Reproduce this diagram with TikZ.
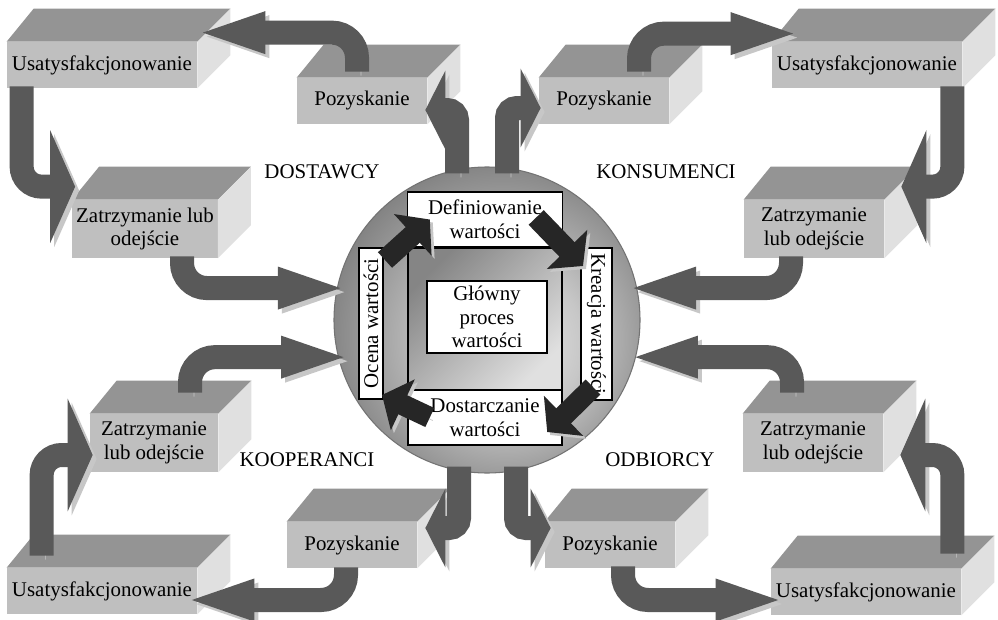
\documentclass[tikz,border=0pt]{standalone}
\usepackage{fontspec}
\setmainfont{Liberation Serif}
\usetikzlibrary{calc,arrows.meta}

\pgfdeclareradialshading{globe}{\pgfpoint{5bp}{-5bp}}{color(0bp)=(black!10); color(12bp)=(black!22); color(29bp)=(black!50); color(50bp)=(black!50)}

\begin{document}
\begin{tikzpicture}
		[x=0.2mm,y=-0.2mm,
		font=\fontsize{11.9}{13.4}\selectfont,
		%Styles
		box/.style={fill=frontgray,inner sep=0pt,align=center,minimum height=9.2mm},
		usat/.style={box,minimum width=38mm},
		poz/.style={box,minimum width=26mm},
		zatrz/.style={box,minimum width=28mm,minimum height=11.6mm},
		top face/.style={fill=topgray},
		side face/.style={fill=sidegray},
		flow/.style={draw=flowgray,line width=4.8mm,
			preaction={draw=shadowgray,transform canvas={shift={(0.8mm,-0.8mm)}}}},
		outflow/.style={flow,rounded corners=2mm,-{Triangle[length=4mm,width=15.6mm]}},
		turnflow/.style={flow,rounded corners=4mm,-{Triangle[length=5mm,width=22.4mm]}},
		longflow/.style={flow,rounded corners=5mm,-{Triangle[length=14.4mm,width=7.2mm]}},
		valuebox/.style={draw,line width=0.8pt,fill=white,inner sep=0pt,align=center},
		innerflow/.style={draw=innerdark,line width=4.2mm,
			preaction={draw=shadowgray,transform canvas={shift={(0.6mm,-0.6mm)}}},
			-{Triangle[length=4.6mm,width=11mm]}}
		]
		
		%Colors
		\colorlet{frontgray}{black!25}
		\colorlet{topgray}{black!42}
		\colorlet{sidegray}{black!12}
		\colorlet{flowgray}{black!65}
		\colorlet{shadowgray}{black!22}
		\colorlet{innerdark}{black!85}
		
		\useasboundingbox (0,0) rectangle (998,620);
		\fill[white] (0,0) rectangle (998,620);
		
		%The circle
		\node[circle,minimum size=61.2mm,inner sep=0pt,shading=globe,draw=black!55,line width=0.6pt] (kolo) at (487,320) {};
		\node[draw,line width=0.6pt,minimum width=30.8mm,minimum height=28.4mm,top color=black!48,bottom color=black!12,shading angle=45] (rdzen) at (485,319) {};
		\node[valuebox,line width=0.6pt,minimum width=24mm,minimum height=14.4mm] (glowny) at (487,317) {Główny\\proces\\wartości};
		
		\node[valuebox,minimum width=31mm,minimum height=11mm] (defin) at (485,219.5) {Definiowanie\\wartości};
		\node[valuebox,rotate=-90,minimum width=30.4mm,minimum height=6.2mm] (kreacja) at (596.5,324) {Kreacja wartości};
		\node[valuebox,minimum width=30.8mm,minimum height=11mm] (dostarcz) at (485,417.5) {Dostarczanie\\wartości};
		\node[valuebox,rotate=90,minimum width=30.2mm,minimum height=4.8mm] (ocena) at (371,323.5) {Ocena wartości};
		
		\draw[innerflow] ($(ocena.center)+(14,-63.5)$) -- ($(defin.west)+(23,0)$);
		\draw[innerflow] ($(defin.east)+(-27,-2)$) -- ($(kreacja.center)+(-13.5,-58)$);
		\draw[innerflow] ($(kreacja.center)+(-3.5,63)$) -- ($(dostarcz.east)+(-15.5,14.5)$);
		\draw[innerflow] ($(dostarcz.west)+(22.5,0)$) -- ($(ocena.center)+(11,71.5)$);
		
		%The boxes
		\node[usat] (dostUsat) at (102,65) {Usatysfakcjonowanie};
		\node[poz] (dostPoz) at (362,101) {Pozyskanie};
		\node[zatrz,minimum width=29mm] (dostZatrz) at (145,229) {Zatrzymanie lub\\odejście};
		\node[poz] (konsPoz) at (604,101) {Pozyskanie};
		\node[usat] (konsUsat) at (867,65) {Usatysfakcjonowanie};
		\node[zatrz] (konsZatrz) at (814,229) {Zatrzymanie\\lub odejście};
		\node[zatrz,minimum width=25.6mm] (koopZatrz) at (154,443) {Zatrzymanie\\lub odejście};
		\node[usat] (koopUsat) at (102,591) {Usatysfakcjonowanie};
		\node[poz] (koopPoz) at (352,545) {Pozyskanie};
		\node[zatrz] (odbZatrz) at (813,443) {Zatrzymanie\\lub odejście};
		\node[poz] (odbPoz) at (610,545) {Pozyskanie};
		\node[usat] (odbUsat) at (866,592) {Usatysfakcjonowanie};
		
		\foreach \b in {dostUsat,dostPoz,dostZatrz,konsPoz,konsUsat,konsZatrz,koopZatrz,koopUsat,koopPoz,odbZatrz,odbPoz,odbUsat}
		{
			\fill[top face] (\b.north west) -- ++(27,-33) -- ($(\b.north east)+(33,-33)$) -- (\b.north east) -- cycle;
			\fill[side face] (\b.north east) -- ++(33,-33) -- ($(\b.south east)+(33,-33)$) -- (\b.south east) -- cycle;
		}
		
		%DOSTAWCY
		\draw[outflow] ($(kolo.north)+(-30,7)$) |- ($(dostPoz.east)+(-2,9)$);
		\draw[longflow] ($(dostPoz.north)+(-5,-6)$) |- ($(dostUsat.north east)+(-4,-9)$);
		\draw[turnflow] ($(dostUsat.south west)+(15,-2)$) |- ($(dostZatrz.north west)+(3,-13)$);
		\draw[longflow] ($(dostZatrz.south)+(37,-2)$) |- ($(kolo.168)+(13,0)$);
		
		%KONSUMENCI
		\draw[outflow] ($(kolo.north)+(20,7)$) |- ($(konsPoz.west)+(2,7)$);
		\draw[longflow] ($(konsPoz.north)+(35,-6)$) |- ($(konsUsat.north west)+(31,-8)$);
		\draw[turnflow] ($(konsUsat.south east)+(-10,-2)$) |- ($(konsZatrz.north east)+(17,-13)$);
		\draw[longflow] ($(konsZatrz.south)+(-23,-2)$) |- ($(kolo.12)+(-13,0)$);
		
		%KOOPERANCI
		\draw[longflow] ($(koopZatrz.north)+(36,-21)$) |- ($(kolo.194)+(15,0)$);
		\draw[turnflow] ($(koopUsat.north west)+(35,-12)$) |- ($(koopZatrz.west)+(3,12)$);
		\draw[longflow] ($(koopPoz.south)+(-6,-1)$) |- ($(koopUsat.east)+(-15,9)$);
		\draw[outflow] ($(kolo.south)+(-28,-7)$) |- ($(koopPoz.east)+(8,-17)$);
		
		%ODBIORCY
		\draw[outflow] ($(kolo.south)+(29,-7)$) |- ($(odbPoz.west)+(6,-17)$);
		\draw[longflow] ($(odbPoz.south)+(13,-2)$) |- ($(odbUsat.west)+(17,8)$);
		\draw[turnflow] ($(odbUsat.north east)+(-9,-15)$) |- ($(odbZatrz.east)+(17,12)$);
		\draw[longflow] ($(odbZatrz.north)+(-21,-21)$) |- ($(kolo.346)+(-10,0)$);
		
		\node (dostawcy) at (322,172) {DOSTAWCY};
		\node (konsumenci) at (666,172) {KONSUMENCI};
		\node (kooperanci) at (307,460) {KOOPERANCI};
		\node (odbiorcy) at (660,460) {ODBIORCY};
	\end{tikzpicture}
\end{document}
